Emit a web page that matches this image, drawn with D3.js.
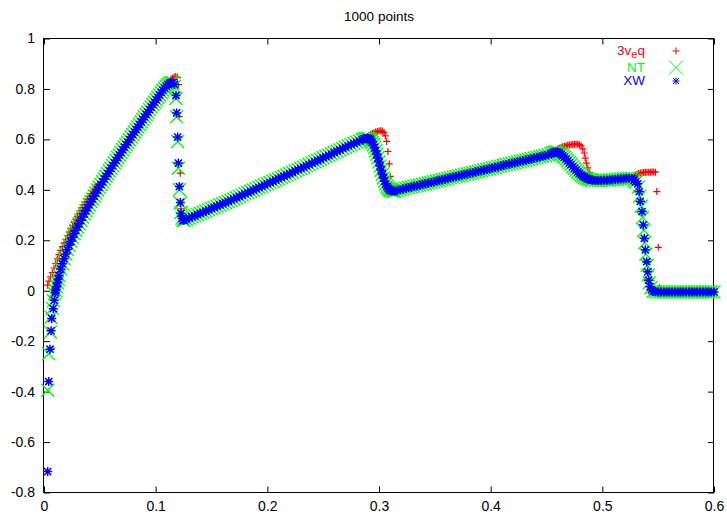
<!DOCTYPE html>
<html>
<head>
<meta charset="utf-8">
<script src="https://cdn.jsdelivr.net/npm/d3@7"></script>
<style>
  body { margin: 0; background: #fff; }
  svg text { font-family: "Liberation Sans", Arial, Helvetica, sans-serif; }
</style>
</head>
<body>
<div id="chart"></div>
<script>
// ---- data -------------------------------------------------------------------
var xTicks = [0, 0.1, 0.2, 0.3, 0.4, 0.5, 0.6];
var yTicks = [-0.8, -0.6, -0.4, -0.2, 0, 0.2, 0.4, 0.6, 0.8, 1];
var title = "1000 points";

// first few points near x=0, one set per scheme
var xwStart = [[0.0033,-0.717],[0.0042,-0.36],[0.0054,-0.232],[0.0063,-0.159],[0.0069,-0.11],[0.0083,-0.071],[0.0092,-0.038],[0.0101,-0.008]];
var ntStart = [[0.0033,-0.395],[0.0042,-0.25],[0.0057,-0.165],[0.0063,-0.105],[0.0075,-0.07],[0.0085,-0.04],[0.0095,-0.012]];
var eqStart = [[0.0033,0.022],[0.0045,0.038],[0.006,0.055],[0.0075,0.072],[0.009,0.09],[0.0105,0.108],[0.012,0.126],[0.0135,0.143],[0.015,0.16],[0.0165,0.175],[0.018,0.19],[0.0195,0.204],[0.021,0.218],[0.0225,0.232],[0.024,0.245],[0.0255,0.258],[0.027,0.271],[0.0285,0.283],[0.03,0.295],[0.0315,0.307],[0.033,0.319],[0.0345,0.33],[0.036,0.341],[0.0375,0.352],[0.039,0.363],[0.0405,0.374],[0.042,0.384],[0.0435,0.394],[0.045,0.404],[0.0465,0.414],[0.048,0.423]];

// smooth stretches where NT and XW sit on top of each other
var rise = [[0.0105,0.0],[0.01125,0.016],[0.012,0.032],[0.01275,0.046],[0.0135,0.06],[0.015,0.086],[0.0165,0.107],[0.018,0.127],[0.0195,0.146],[0.021,0.163],[0.0225,0.18],[0.024,0.196],[0.0255,0.211],[0.027,0.226],[0.0285,0.24],[0.03,0.253],[0.0315,0.266],[0.033,0.279],[0.0345,0.292],[0.036,0.305],[0.0375,0.317],[0.039,0.329],[0.0405,0.341],[0.042,0.353],[0.0435,0.364],[0.045,0.376],[0.0465,0.387],[0.048,0.399],[0.0495,0.41],[0.051,0.421],[0.0525,0.432],[0.054,0.443],[0.0555,0.454],[0.057,0.464],[0.0585,0.475],[0.06,0.486],[0.0615,0.496],[0.063,0.507],[0.0645,0.517],[0.066,0.528],[0.0675,0.538],[0.069,0.548],[0.0705,0.559],[0.072,0.569],[0.0735,0.579],[0.075,0.589],[0.0765,0.599],[0.078,0.609],[0.0795,0.619],[0.081,0.629],[0.0825,0.639],[0.084,0.649],[0.0855,0.659],[0.087,0.669],[0.0885,0.679],[0.09,0.689],[0.0915,0.699],[0.093,0.708],[0.0945,0.718],[0.096,0.728],[0.0975,0.738],[0.099,0.747],[0.1005,0.757],[0.102,0.767],[0.1035,0.776],[0.105,0.786],[0.1065,0.795],[0.108,0.803],[0.1095,0.811],[0.111,0.817],[0.1125,0.822],[0.114,0.825],[0.1155,0.825]];

var slope1 = [[0.1275,0.283],[0.13,0.288],[0.1325,0.293],[0.135,0.297],[0.1375,0.302],[0.14,0.307],[0.1425,0.311],[0.145,0.316],[0.1475,0.321],[0.15,0.326],[0.1525,0.33],[0.155,0.335],[0.1575,0.34],[0.16,0.345],[0.1625,0.349],[0.165,0.354],[0.1675,0.359],[0.17,0.364],[0.1725,0.369],[0.175,0.374],[0.1775,0.379],[0.18,0.384],[0.1825,0.389],[0.185,0.394],[0.1875,0.399],[0.19,0.404],[0.1925,0.409],[0.195,0.414],[0.1975,0.419],[0.2,0.424],[0.2025,0.429],[0.205,0.434],[0.2075,0.439],[0.21,0.444],[0.2125,0.449],[0.215,0.454],[0.2175,0.459],[0.22,0.464],[0.2225,0.469],[0.225,0.475],[0.2275,0.48],[0.23,0.485],[0.2325,0.49],[0.235,0.495],[0.2375,0.5],[0.24,0.506],[0.2425,0.511],[0.245,0.516],[0.2475,0.521],[0.25,0.527],[0.2525,0.532],[0.255,0.537],[0.2575,0.542],[0.26,0.548],[0.2625,0.553],[0.265,0.558],[0.2675,0.564],[0.27,0.569],[0.2725,0.574],[0.275,0.579],[0.2775,0.584],[0.28,0.589],[0.2825,0.594],[0.285,0.599]];

var fall2 = [[0.2865,0.602],[0.288,0.604],[0.2895,0.605],[0.291,0.603],[0.292,0.6],[0.293,0.595],[0.294,0.588],[0.295,0.579],[0.296,0.568],[0.297,0.555],[0.298,0.541],[0.299,0.526],[0.3,0.51],[0.301,0.494],[0.302,0.478],[0.303,0.462],[0.304,0.447],[0.305,0.434],[0.306,0.423],[0.307,0.414],[0.308,0.407],[0.309,0.402],[0.31,0.398],[0.311,0.396],[0.3125,0.394],[0.314,0.394]];

var slope2 = [[0.3165,0.398],[0.319,0.401],[0.3215,0.403],[0.324,0.406],[0.3265,0.409],[0.329,0.411],[0.3315,0.414],[0.334,0.416],[0.3365,0.419],[0.339,0.422],[0.3415,0.424],[0.344,0.427],[0.3465,0.429],[0.349,0.432],[0.3515,0.435],[0.354,0.437],[0.3565,0.44],[0.359,0.442],[0.3615,0.445],[0.364,0.448],[0.3665,0.45],[0.369,0.453],[0.3715,0.455],[0.374,0.458],[0.3765,0.461],[0.379,0.463],[0.3815,0.466],[0.384,0.468],[0.3865,0.471],[0.389,0.474],[0.3915,0.476],[0.394,0.479],[0.3965,0.481],[0.399,0.484],[0.4015,0.487],[0.404,0.489],[0.4065,0.492],[0.409,0.494],[0.4115,0.497],[0.414,0.5],[0.4165,0.502],[0.419,0.505],[0.4215,0.507],[0.424,0.51],[0.4265,0.513],[0.429,0.515],[0.4315,0.518],[0.434,0.52],[0.4365,0.523],[0.439,0.526],[0.4415,0.528],[0.444,0.531],[0.4465,0.533],[0.449,0.536],[0.4515,0.539]];

var fall3 = [[0.454,0.543],[0.4555,0.547],[0.457,0.549],[0.4585,0.55],[0.46,0.549],[0.4615,0.546],[0.463,0.541],[0.4645,0.535],[0.466,0.529],[0.4675,0.522],[0.469,0.515],[0.4705,0.507],[0.472,0.5],[0.4735,0.492],[0.475,0.485],[0.4765,0.478],[0.478,0.471],[0.4795,0.465],[0.481,0.459],[0.4825,0.454],[0.484,0.45],[0.4855,0.446],[0.487,0.443],[0.4885,0.441],[0.49,0.439]];

var ledge = [[0.4915,0.438],[0.494,0.437],[0.4965,0.437],[0.499,0.437],[0.5015,0.438],[0.504,0.438],[0.5065,0.439],[0.509,0.44],[0.5115,0.441],[0.514,0.442],[0.5165,0.443],[0.519,0.444],[0.5215,0.445],[0.524,0.446],[0.5265,0.445],[0.5285,0.438]];

var tail = [[0.5475,-0.004],[0.55,-0.005],[0.5525,-0.005],[0.555,-0.005],[0.5575,-0.005],[0.56,-0.005],[0.5625,-0.005],[0.565,-0.005],[0.5675,-0.005],[0.57,-0.005],[0.5725,-0.005],[0.575,-0.005],[0.5775,-0.005],[0.58,-0.005],[0.5825,-0.005],[0.585,-0.005],[0.5875,-0.005],[0.59,-0.005],[0.5925,-0.005],[0.595,-0.005],[0.5975,-0.005],[0.6,-0.005]];

// shock regions, where the schemes part ways
var xwDrop1 = [[0.1168,0.818],[0.1182,0.774],[0.1188,0.705],[0.1197,0.609],[0.1203,0.506],[0.1212,0.413],[0.1221,0.35],[0.1227,0.307],[0.1236,0.286],[0.1245,0.279],[0.1255,0.279]];
var ntDrop1 = [[0.1168,0.81],[0.1182,0.762],[0.1188,0.69],[0.1197,0.592],[0.1203,0.486],[0.1212,0.4],[0.1221,0.347],[0.1227,0.31],[0.1236,0.287],[0.1245,0.279],[0.1255,0.279]];
var eqDrop1 = [[0.112,0.83],[0.1135,0.836],[0.115,0.842],[0.1165,0.847],[0.118,0.849],[0.1195,0.845],[0.1205,0.817],[0.121,0.69],[0.122,0.466],[0.1227,0.325],[0.1237,0.287],[0.125,0.279]];

var eqFall2 = [[0.2865,0.603],[0.288,0.607],[0.2895,0.611],[0.291,0.615],[0.2925,0.619],[0.294,0.623],[0.2955,0.626],[0.297,0.629],[0.2985,0.631],[0.3,0.633],[0.3015,0.634],[0.303,0.633],[0.3045,0.627],[0.3057,0.614],[0.3069,0.592],[0.308,0.552],[0.3092,0.503],[0.3101,0.453],[0.311,0.418],[0.3125,0.399],[0.314,0.395]];

var eqFall3 = [[0.454,0.546],[0.4555,0.55],[0.457,0.554],[0.4585,0.558],[0.46,0.562],[0.4615,0.565],[0.463,0.568],[0.4645,0.571],[0.466,0.573],[0.4675,0.575],[0.469,0.577],[0.4705,0.578],[0.472,0.579],[0.4735,0.58],[0.475,0.581],[0.4765,0.581],[0.478,0.581],[0.4795,0.579],[0.481,0.574],[0.4825,0.562],[0.4838,0.546],[0.4847,0.526],[0.4857,0.506],[0.487,0.487],[0.4885,0.468],[0.49,0.452],[0.4915,0.443],[0.493,0.438]];

var xwDrop4 = [[0.5298,0.432],[0.5317,0.424],[0.5331,0.393],[0.534,0.354],[0.5355,0.314],[0.5367,0.261],[0.5376,0.208],[0.5385,0.162],[0.5397,0.115],[0.5406,0.075],[0.5415,0.042],[0.5427,0.016],[0.544,0.003],[0.5455,-0.003]];
var ntDrop4 = [[0.5298,0.43],[0.5322,0.41],[0.5335,0.375],[0.5348,0.335],[0.536,0.29],[0.5372,0.24],[0.538,0.19],[0.539,0.145],[0.5402,0.1],[0.541,0.062],[0.542,0.032],[0.5435,0.012],[0.5455,-0.002]];
var eqDrop4 = [[0.5265,0.449],[0.528,0.454],[0.5295,0.458],[0.531,0.462],[0.5325,0.465],[0.534,0.467],[0.5355,0.468],[0.537,0.469],[0.5385,0.469],[0.54,0.47],[0.5415,0.47],[0.543,0.47],[0.5445,0.471],[0.546,0.471],[0.5475,0.47],[0.5488,0.393],[0.5501,0.172],[0.5512,0.012]];

function between(arr, a, b) {
    return arr.filter(function(d) { return d[0] >= a && d[0] <= b; });
}

var eqValues = [].concat(eqStart, between(rise, 0.049, 0.111), eqDrop1, slope1, eqFall2,
    slope2, eqFall3, between(ledge, 0.494, 0.525), eqDrop4, between(tail, 0.552, 1));
var ntValues = [].concat(ntStart, rise, ntDrop1, slope1, fall2, slope2, fall3, ledge, ntDrop4, tail);
var xwValues = [].concat(xwStart, rise, xwDrop1, slope1, fall2, slope2, fall3, ledge, xwDrop4, tail);

// ---- drawing ----------------------------------------------------------------
var W = 727, H = 519;
// plot frame in pixels (note: "top" is taken by window.top, so prefix these)
var frameL = 44, frameR = 714, frameT = 38.5, frameB = 492.5;

var svg = d3.select("#chart").append("svg")
    .attr("width", W)
    .attr("height", H);

var x = d3.scaleLinear().domain([0, 0.6]).range([frameL, frameR]);
var y = d3.scaleLinear().domain([-0.8, 1]).range([frameB, frameT]);

// marker shapes (gnuplot style)
var shapes = {
    plus: "M-3.5,0H3.5M0,-3.5V3.5",
    cross: "M-6.5,-6.5L6.5,6.5M-6.5,6.5L6.5,-6.5",
    star: "M-4.5,0H4.5M0,-4.5V4.5M-3.6,-3.6L3.6,3.6M-3.6,3.6L3.6,-3.6"
};
var keyShapes = {
    plus: shapes.plus,
    cross: "M-7,-7L7,7M-7,7L7,-7",
    star: "M-3.5,0H3.5M0,-3.5V3.5M-3,-3L3,3M-3,3L3,-3"
};

var series = [
    { name: "3v_eq", color: "#ff0000", shape: "plus", width: 1.2, values: eqValues },
    { name: "NT", color: "#00ff00", shape: "cross", width: 1.4, values: ntValues },
    { name: "XW", color: "#0000ff", shape: "star", width: 1.5, values: xwValues }
];

// title
svg.append("text")
    .attr("x", (frameL + frameR) / 2)
    .attr("y", 21)
    .attr("text-anchor", "middle")
    .style("font-size", "13.5px")
    .text(title);

// axes, gnuplot puts the ticks inside the frame and mirrors them
var fmt = function(d) { return String(+d.toFixed(1)); };

svg.append("g")
    .attr("transform", "translate(" + frameL + ",0)")
    .call(d3.axisLeft(y).tickValues(yTicks).tickSize(-6).tickPadding(9).tickFormat(fmt))
    .call(function(g) { g.select(".domain").remove(); });

svg.append("g")
    .attr("transform", "translate(" + frameR + ",0)")
    .call(d3.axisRight(y).tickValues(yTicks).tickSize(-6).tickFormat(""))
    .call(function(g) { g.select(".domain").remove(); });

svg.append("g")
    .attr("transform", "translate(0," + frameB + ")")
    .call(d3.axisBottom(x).tickValues(xTicks).tickSize(-6).tickPadding(9).tickFormat(fmt))
    .call(function(g) { g.select(".domain").remove(); });

svg.append("g")
    .attr("transform", "translate(0," + frameT + ")")
    .call(d3.axisTop(x).tickValues(xTicks).tickSize(-6).tickFormat(""))
    .call(function(g) { g.select(".domain").remove(); });

svg.selectAll(".tick text")
    .style("font-size", "14px")
    .attr("fill", "#000")
    .style("font-family", "'Liberation Sans', Arial, sans-serif");
svg.selectAll(".tick line").attr("stroke", "#000");

svg.append("rect")
    .attr("x", frameL - 0.5)
    .attr("y", frameT)
    .attr("width", frameR - frameL)
    .attr("height", frameB - frameT)
    .attr("fill", "none")
    .attr("stroke", "#000")
    .attr("stroke-width", 1);

// points, series drawn in order so the blue ends up on top
series.forEach(function(s) {
    svg.append("g")
        .attr("class", "series")
        .selectAll("path")
        .data(s.values)
        .join("path")
        .attr("transform", function(d) { return "translate(" + x(d[0]) + "," + y(d[1]) + ")"; })
        .attr("d", shapes[s.shape])
        .attr("fill", "none")
        .attr("stroke", s.color)
        .attr("stroke-width", s.width);
});

// key
var key = svg.append("g").attr("class", "key");
var keyRows = [51, 67.5, 81];
series.forEach(function(s, i) {
    var t = key.append("text")
        .attr("x", 645)
        .attr("y", keyRows[i] + 4)
        .attr("text-anchor", "end")
        .attr("fill", s.color)
        .style("font-size", "13.5px");
    if (s.name === "3v_eq") {
        t.append("tspan").text("3v");
        t.append("tspan").attr("dy", 2.5).style("font-size", "11px").text("e");
        t.append("tspan").attr("dy", -2.5).text("q");
    } else {
        t.text(s.name);
    }
    key.append("path")
        .attr("transform", "translate(676," + keyRows[i] + ")")
        .attr("d", keyShapes[s.shape])
        .attr("fill", "none")
        .attr("stroke", s.color)
        .attr("stroke-width", 1);
});
</script>
</body>
</html>
